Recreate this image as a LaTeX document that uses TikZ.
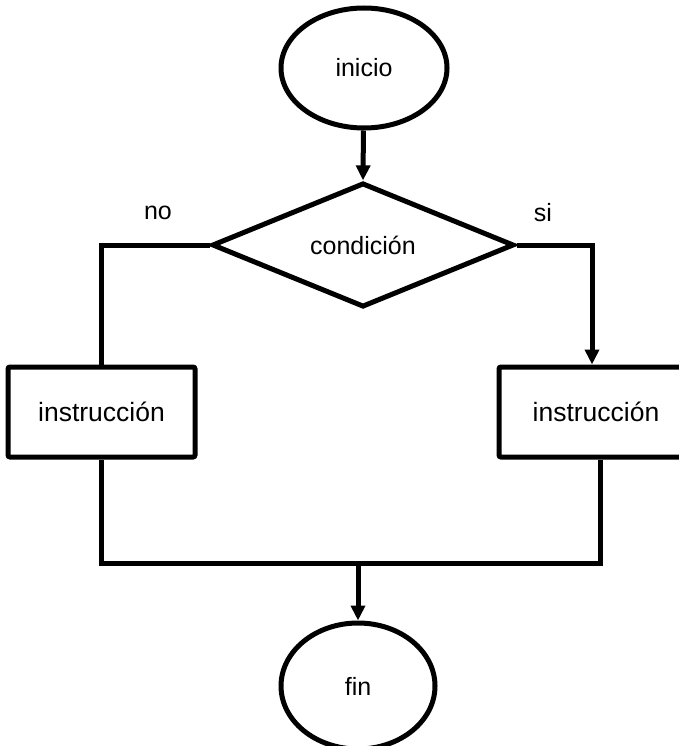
\documentclass[tikz,border=0pt]{standalone}
\usepackage{fontspec}
\setmainfont{Liberation Sans}
\usetikzlibrary{arrows.meta,shapes.geometric}
\begin{document}
\begin{tikzpicture}[x=1pt,y=-1pt,
  every node/.style={font=\fontsize{25}{30}\selectfont},
  outline/.style={draw,line width=5pt,inner sep=0pt},
  terminal/.style={outline,ellipse},
  decision/.style={outline,diamond},
  process/.style={outline,rectangle,rounded corners=2pt,font=\fontsize{26.5}{31}\selectfont},
  link/.style={line width=5pt},
  flow/.style={link,-{Triangle[width=14pt,length=15pt]}}]
\useasboundingbox (0,0) rectangle (678,746);

% start / end
\node[terminal,minimum width=166pt,minimum height=120pt] (inicio) at (364,68) {inicio};
\node[terminal,minimum width=154pt,minimum height=126pt] (fin) at (358,686) {fin};

% decision
\node[decision,minimum width=302pt,minimum height=120pt] (cond) at (363,245) {condición};

% branches
\node[process,minimum width=187pt,minimum height=90pt] (lbox) at (101.5,412) {instrucción};
\node[process,minimum width=194pt,minimum height=90pt] (rbox) at (596,412) {instrucción};

% branch labels
\node (no) at (158,213) {no};
\node (si) at (543,213) {si};

% junction points of the merge line
\coordinate (bl) at (101.5,563);
\coordinate (br) at (600,563);
\coordinate (rin) at (592,245);

% connectors
\draw[flow] (inicio) -- (cond.north);
\draw[link] (cond.west) -| (lbox.north);
\draw[flow] (cond.east) -- (rin) -- (rin |- rbox.north);
\draw[link] (lbox.south) -- (bl) -- (br) -- (br |- rbox.south);
\draw[flow] (fin.north |- bl) -- (fin.north);
\end{tikzpicture}
\end{document}
